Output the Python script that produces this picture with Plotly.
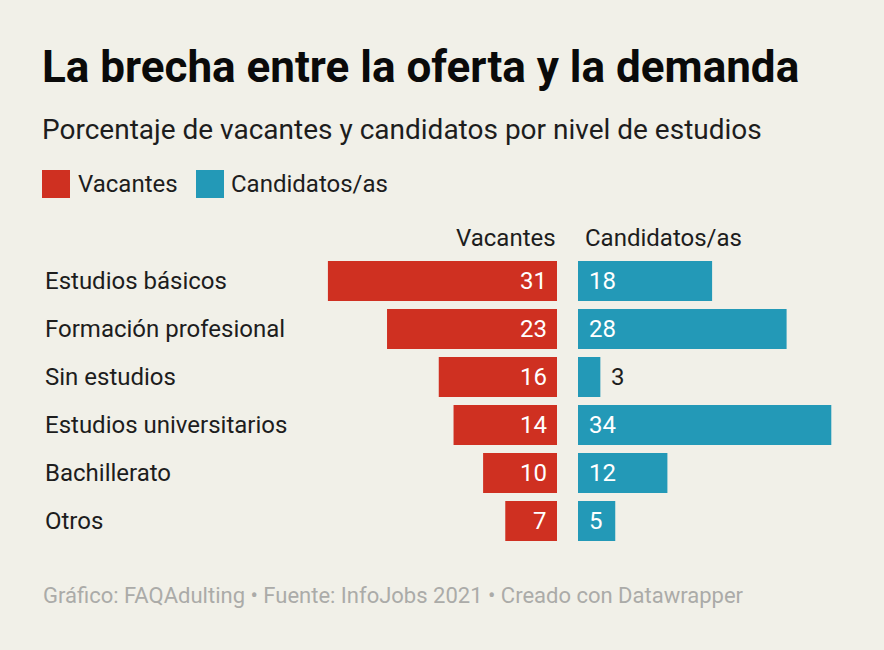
import plotly.graph_objects as go

categories = ["Estudios básicos", "Formación profesional", "Sin estudios",
              "Estudios universitarios", "Bachillerato", "Otros"]
vacantes = [31, 23, 16, 14, 10, 7]
candidatos = [18, 28, 3, 34, 12, 5]

title = "La brecha entre la oferta y la demanda"
subtitle = "Porcentaje de vacantes y candidatos por nivel de estudios"
footer = "Gráfico: FAQAdulting • Fuente: InfoJobs 2021 • Creado con Datawrapper"
series_names = ["Vacantes", "Candidatos/as"]

W, H = 884, 650
BG = "#f1f0e8"
RED = "#cf3021"
BLUE = "#2399b7"
TXT = "#1d1d1d"
FONT = "Roboto"

def py(px):
    return 1 - px / H

def px_(x):
    return x / W

red_right = 557
blue_left = 578
scale_r = 7.39
scale_b = 7.45

fig = go.Figure()
fig.add_trace(go.Bar(y=categories, x=vacantes, orientation="h", marker_color=RED,
                     marker_line_width=0, xaxis="x", yaxis="y", showlegend=False,
                     hoverinfo="skip"))
fig.add_trace(go.Bar(y=categories, x=candidatos, orientation="h", marker_color=BLUE,
                     marker_line_width=0, xaxis="x2", yaxis="y", showlegend=False,
                     hoverinfo="skip"))

annotations = []
for c in categories:
    annotations.append(dict(x=px_(43), xref="paper", y=c, yref="y", text=c,
                            xanchor="left", yanchor="middle", showarrow=False,
                            font=dict(family=FONT, size=24, color=TXT)))
for c, v in zip(categories, vacantes):
    annotations.append(dict(x=0, xref="x", y=c, yref="y", text=str(v),
                            xanchor="right", yanchor="middle", xshift=-8, showarrow=False,
                            font=dict(family=FONT, size=24, color="white")))
for c, v in zip(categories, candidatos):
    inside = v * scale_b > 30
    annotations.append(dict(x=0 if inside else v, xref="x2", y=c, yref="y", text=str(v),
                            xanchor="left", yanchor="middle", xshift=9, showarrow=False,
                            font=dict(family=FONT, size=24, color="white" if inside else TXT)))
annotations.append(dict(x=px_(red_right + 1), xref="paper", y=py(238), yref="paper",
                        text=series_names[0], xanchor="right", yanchor="middle",
                        showarrow=False, font=dict(family=FONT, size=24, color=TXT)))
annotations.append(dict(x=px_(583), xref="paper", y=py(238), yref="paper",
                        text=series_names[1], xanchor="left", yanchor="middle",
                        showarrow=False, font=dict(family=FONT, size=24, color=TXT)))
annotations.append(dict(x=px_(40), xref="paper", y=py(67), yref="paper",
                        text="<b>" + title + "</b>", xanchor="left", yanchor="middle",
                        showarrow=False, font=dict(family=FONT, size=44, color="#0a0a0a")))
annotations.append(dict(x=px_(40), xref="paper", y=py(129), yref="paper",
                        text=subtitle, xanchor="left", yanchor="middle",
                        showarrow=False, font=dict(family=FONT, size=28, color=TXT)))
shapes = []
legend_pos = [(42, 76), (196, 229)]
for (sx, tx), name, col in zip(legend_pos, series_names, [RED, BLUE]):
    shapes.append(dict(type="rect", xref="paper", yref="paper",
                       x0=px_(sx), x1=px_(sx + 28), y0=py(198), y1=py(170),
                       fillcolor=col, line_width=0))
    annotations.append(dict(x=px_(tx), xref="paper", y=py(184), yref="paper",
                            text=name, xanchor="left", yanchor="middle",
                            showarrow=False, font=dict(family=FONT, size=24, color=TXT)))
annotations.append(dict(x=px_(41), xref="paper", y=py(595), yref="paper",
                        text=footer, xanchor="left", yanchor="middle",
                        showarrow=False, font=dict(family=FONT, size=22, color="#ababa8")))

fig.update_layout(
    width=W, height=H, margin=dict(l=0, r=0, t=0, b=0, pad=0),
    paper_bgcolor=BG, plot_bgcolor=BG,
    bargap=1 - 40 / 48,
    xaxis=dict(domain=[0, px_(red_right)], range=[red_right / scale_r, 0],
               visible=False, fixedrange=True),
    xaxis2=dict(domain=[px_(blue_left), 1], range=[0, (W - blue_left) / scale_b],
                visible=False, fixedrange=True),
    yaxis=dict(domain=[py(545), py(257)], categoryorder="array",
               categoryarray=categories, autorange="reversed",
               visible=False, fixedrange=True),
    annotations=annotations, shapes=shapes,
)

fig.write_html("out.html", config={"displayModeBar": False})
with open("out.html", encoding="utf-8") as f:
    html = f.read()
html = html.replace("<head>", "<head><style>html,body{margin:0;padding:0;background:%s;}</style>" % BG, 1)
with open("out.html", "w", encoding="utf-8") as f:
    f.write(html)
